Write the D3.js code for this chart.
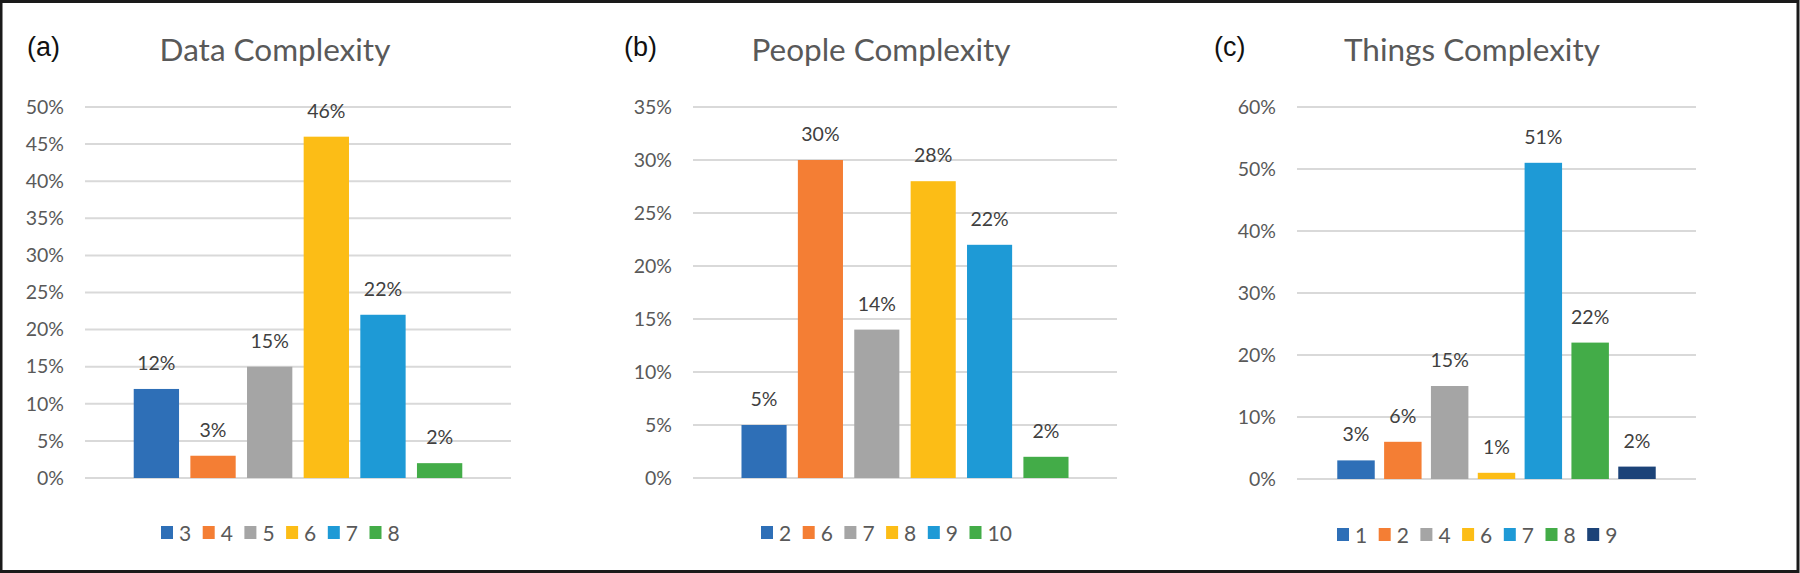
<!DOCTYPE html>
<html>
<head>
<meta charset="utf-8">
<script src="https://cdn.jsdelivr.net/npm/d3@7/dist/d3.min.js"></script>
<style>
  html, body { margin: 0; padding: 0; background: #fff; }
  svg { display: block; }
</style>
</head>
<body>
<svg id="chart" width="1800" height="573"></svg>
<script>
// ---- data ----
const panelLetters = ["(a)", "(b)", "(c)"];
const panelTitles = ["Data Complexity", "People Complexity", "Things Complexity"];

const dataCategories = ["3", "4", "5", "6", "7", "8"];
const dataValues = [0.12, 0.03, 0.15, 0.46, 0.22, 0.02];
const dataTicks = [0, 0.05, 0.10, 0.15, 0.20, 0.25, 0.30, 0.35, 0.40, 0.45, 0.50];

const peopleCategories = ["2", "6", "7", "8", "9", "10"];
const peopleValues = [0.05, 0.30, 0.14, 0.28, 0.22, 0.02];
const peopleTicks = [0, 0.05, 0.10, 0.15, 0.20, 0.25, 0.30, 0.35];

const thingsCategories = ["1", "2", "4", "6", "7", "8", "9"];
const thingsValues = [0.03, 0.06, 0.15, 0.01, 0.51, 0.22, 0.02];
const thingsTicks = [0, 0.10, 0.20, 0.30, 0.40, 0.50, 0.60];

const dataColors = ["#2E6FB7", "#F47E34", "#A5A5A5", "#FCBD16", "#1E9AD6", "#43AC48"];
const peopleColors = ["#2E6FB7", "#F47E34", "#A5A5A5", "#FCBD16", "#1E9AD6", "#43AC48"];
const thingsColors = ["#2E6FB7", "#F47E34", "#A5A5A5", "#FCBD16", "#1E9AD6", "#43AC48", "#1C4378"];

// ---- layout ----
const panels = [
  { letter: panelLetters[0], title: panelTitles[0], cats: dataCategories, vals: dataValues, ticks: dataTicks, colors: dataColors,
    x0: 85, x1: 511, y0: 107, y1: 478, max: 0.50, letterX: 27, titleX: 275, legendX: 161, legendY: 526 },
  { letter: panelLetters[1], title: panelTitles[1], cats: peopleCategories, vals: peopleValues, ticks: peopleTicks, colors: peopleColors,
    x0: 693, x1: 1117, y0: 107, y1: 478, max: 0.35, letterX: 624, titleX: 881, legendX: 761, legendY: 526 },
  { letter: panelLetters[2], title: panelTitles[2], cats: thingsCategories, vals: thingsValues, ticks: thingsTicks, colors: thingsColors,
    x0: 1297, x1: 1696, y0: 107, y1: 479, max: 0.60, letterX: 1214, titleX: 1472, legendX: 1337, legendY: 528 }
];

const svg = d3.select("#chart");
const FONT = "Lato, 'Open Sans', sans-serif";
const pct = d3.format(".0%");

svg.append("rect").attr("x", 0).attr("y", 0).attr("width", 1800).attr("height", 573).attr("fill", "#fff");

panels.forEach(p => {
  const g = svg.append("g");
  const y = d3.scaleLinear().domain([0, p.max]).range([p.y1, p.y0]);
  const x = d3.scaleBand().domain(p.cats).range([p.x0, p.x1]).paddingInner(0.2).paddingOuter(0.86);

  // gridlines
  g.append("g").selectAll("line").data(p.ticks).join("line")
    .attr("x1", p.x0).attr("x2", p.x1)
    .attr("y1", d => y(d)).attr("y2", d => y(d))
    .attr("stroke", "#D9D9D9").attr("stroke-width", 2);

  // y axis labels
  const ax = d3.axisLeft(y).tickValues(p.ticks).tickFormat(pct).tickSize(0).tickPadding(21);
  const axg = g.append("g").attr("transform", `translate(${p.x0},0)`).call(ax);
  axg.select(".domain").remove();
  axg.selectAll("text").attr("font-family", FONT).attr("font-size", 19.5).attr("fill", "#595959");

  // bars
  g.append("g").selectAll("rect").data(p.vals).join("rect")
    .attr("x", (d, i) => x(p.cats[i]))
    .attr("width", x.bandwidth())
    .attr("y", d => y(d))
    .attr("height", d => y(0) - y(d))
    .attr("fill", (d, i) => p.colors[i]);

  // data labels
  g.append("g").selectAll("text").data(p.vals).join("text")
    .attr("x", (d, i) => x(p.cats[i]) + x.bandwidth() / 2)
    .attr("y", d => y(d) - 19)
    .attr("text-anchor", "middle")
    .attr("font-family", FONT).attr("font-size", 19.5).attr("fill", "#404040")
    .text(d => pct(d));

  // title
  g.append("text").attr("x", p.titleX).attr("y", 61).attr("text-anchor", "middle")
    .attr("font-family", FONT).attr("font-size", 31.5).attr("fill", "#595959").text(p.title);

  // panel letter
  g.append("text").attr("x", p.letterX).attr("y", 56)
    .attr("font-family", "'Liberation Sans', Arial, sans-serif").attr("font-size", 27).attr("fill", "#111").text(p.letter);

  // legend
  const lg = g.append("g").attr("transform", `translate(${p.legendX},${p.legendY})`);
  const items = lg.selectAll("g").data(p.cats).join("g")
    .attr("transform", (d, i) => `translate(${i * 41.7},0)`);
  items.append("rect").attr("width", 12).attr("height", 13).attr("fill", (d, i) => p.colors[i]);
  items.append("text").attr("x", 18).attr("y", 14.5)
    .attr("font-family", FONT).attr("font-size", 21).attr("fill", "#595959").text(d => d);
});

// outer frame
svg.append("rect").attr("x", 1).attr("y", 1.5).attr("width", 1797).attr("height", 570)
  .attr("fill", "none").attr("stroke", "#1a1a1a").attr("stroke-width", 3);
</script>
</body>
</html>
